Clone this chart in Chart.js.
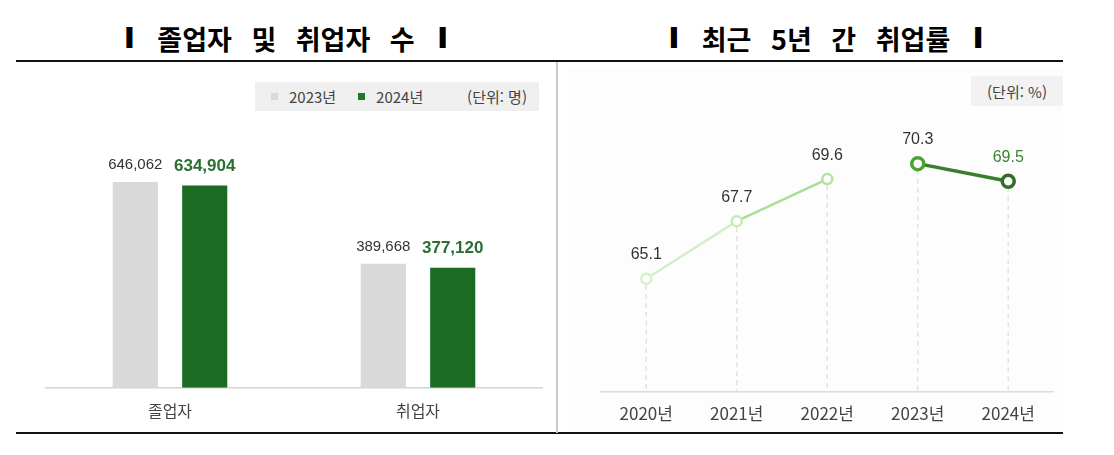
<!DOCTYPE html>
<html lang="ko">
<head>
<meta charset="utf-8">
<script src="https://cdn.jsdelivr.net/npm/chart.js@4.4.1/dist/chart.umd.min.js"></script>
<style>
  html, body { margin: 0; padding: 0; background: #fff; }
  body { width: 1114px; height: 455px; position: relative; overflow: hidden;
         font-family: 'Noto Sans CJK KR', 'Liberation Sans', sans-serif; color: #444; }
  .title { position: absolute; top: 18px; height: 40px; display: flex; align-items: center;
           justify-content: center; font-weight: 700; font-size: 27px; color: #000;
           letter-spacing: 0; word-spacing: 12px; white-space: pre; }
  .title .bar { font-family: 'Liberation Sans', sans-serif; font-size: 28px; font-weight: 700;
                -webkit-text-stroke: 2px #000; margin: 0 24px; }
  .rule { position: absolute; height: 2px; background: #111; }
  .sep { position: absolute; left: 556px; top: 62px; width: 2px; height: 371px; background: #cbcbcb; }
  .rightbg { position: absolute; left: 567px; top: 68px; width: 496px; height: 362px; background: #fdfdfd; }
  .legend { position: absolute; left: 255px; top: 82px; width: 284px; height: 29px; background: #efefef;
            display: flex; align-items: center; font-size: 15px; color: #444; }
  .legend .sw { display: inline-block; width: 7px; height: 7px; margin: 0 11px 0 16px; }
  .legend .unit { margin-left: auto; margin-right: 12px; }
  .unitbox { position: absolute; left: 971px; top: 76px; width: 92px; height: 30px; background: #f2f2f2;
             display: flex; align-items: center; justify-content: center; font-size: 15px; color: #444; }
  .box { position: absolute; }
</style>
</head>
<body>
<div class="title" id="titleLeft" style="left:16px; width:540px;"></div>
<div class="title" id="titleRight" style="left:600px; width:452px;"></div>
<div class="rule" style="left:16px; top:60px; width:1047px;"></div>
<div class="rule" style="left:16px; top:432px; width:1047px;"></div>
<div class="rightbg"></div>
<div class="sep"></div>
<div class="legend" id="legend"></div>
<div class="unitbox" id="unitRight"></div>
<div class="box" style="left:19px; top:100px; width:537px; height:347px;"><canvas id="barChart"></canvas></div>
<div class="box" style="left:557px; top:100px; width:506px; height:345px;"><canvas id="lineChart"></canvas></div>

<script>
// left chart data
const barTitle = '졸업자 및 취업자 수';
const barCategories = ['졸업자', '취업자'];
const barSeries = ['2023년', '2024년'];
const values2023 = [646062, 389668];
const values2024 = [634904, 377120];
const barUnit = '(단위: 명)';

// right chart data
const lineTitle = '최근 5년 간 취업률';
const years = ['2020년', '2021년', '2022년', '2023년', '2024년'];
const rates = [65.1, 67.7, 69.6, 70.3, 69.5];
const lineUnit = '(단위: %)';

const FONT = "'Noto Sans CJK KR', 'Liberation Sans', sans-serif";
const NUMFONT = "'Liberation Sans', Arial, sans-serif";

function setTitle(id, text) {
    const el = document.getElementById(id);
    el.innerHTML = '<span class="bar">I</span>' + text + '<span class="bar">I</span>';
}
setTitle('titleLeft', barTitle);
setTitle('titleRight', lineTitle);

document.getElementById('legend').innerHTML =
    '<span class="sw" style="background:#d9d9d9"></span>' + barSeries[0] +
    '<span class="sw" style="background:#1d7a27; margin-left:22px"></span>' + barSeries[1] +
    '<span class="unit">' + barUnit + '</span>';
document.getElementById('unitRight').textContent = lineUnit;

const barValueLabels = {
    id: 'barValueLabels',
    afterDatasetsDraw(chart) {
        const ctx = chart.ctx;
        chart.data.datasets.forEach((ds, i) => {
            chart.getDatasetMeta(i).data.forEach((bar, j) => {
                ctx.save();
                ctx.font = ds.labelFont;
                ctx.fillStyle = ds.labelColor;
                ctx.textAlign = 'center';
                ctx.textBaseline = 'middle';
                ctx.fillText(ds.data[j].toLocaleString('en-US'), bar.x, bar.y - ds.labelOffset);
                ctx.restore();
            });
        });
    }
};

new Chart(document.getElementById('barChart').getContext('2d'), {
    type: 'bar',
    data: {
        labels: barCategories,
        datasets: [
            {
                label: barSeries[0], data: values2023, backgroundColor: '#d9d9d9',
                categoryPercentage: 0.56, barPercentage: 0.65,
                labelFont: '15px ' + NUMFONT, labelColor: '#333', labelOffset: 17
            },
            {
                label: barSeries[1], data: values2024, backgroundColor: '#1b6b25',
                categoryPercentage: 0.56, barPercentage: 0.65,
                labelFont: 'bold 17px ' + NUMFONT, labelColor: '#2a6e33', labelOffset: 19
            }
        ]
    },
    options: {
        responsive: true,
        maintainAspectRatio: false,
        animation: false,
        layout: { padding: { left: 27, right: 14, top: 33, bottom: 12 } },
        plugins: { legend: { display: false }, tooltip: { enabled: false } },
        scales: {
            x: {
                grid: { display: false, drawTicks: false },
                border: { display: true, color: '#d4d4d4', width: 1.5 },
                ticks: { color: '#444', font: { family: FONT, size: 16 }, padding: 14 }
            },
            y: { display: false, min: 0, max: 800000 }
        }
    },
    plugins: [barValueLabels]
});

const segColors = ['#d3efc7', '#a8df92', 'rgba(0,0,0,0)', '#3a7d2e'];
const segWidths = [2.5, 2.5, 0, 3.5];

const dropLines = {
    id: 'dropLines',
    beforeDatasetsDraw(chart) {
        const ctx = chart.ctx;
        const bottom = chart.chartArea.bottom;
        chart.getDatasetMeta(0).data.forEach(pt => {
            ctx.save();
            ctx.strokeStyle = '#e2e2e2';
            ctx.lineWidth = 1.5;
            ctx.setLineDash([5, 4]);
            ctx.beginPath();
            ctx.moveTo(pt.x, pt.y + 6);
            ctx.lineTo(pt.x, bottom);
            ctx.stroke();
            ctx.restore();
        });
    }
};

const lineValueLabels = {
    id: 'lineValueLabels',
    afterDatasetsDraw(chart) {
        const ctx = chart.ctx;
        const ds = chart.data.datasets[0];
        chart.getDatasetMeta(0).data.forEach((pt, j) => {
            ctx.save();
            ctx.font = '16px ' + NUMFONT;
            ctx.fillStyle = j === ds.data.length - 1 ? '#3c8234' : '#333';
            ctx.textAlign = 'center';
            ctx.textBaseline = 'middle';
            ctx.fillText(ds.data[j].toFixed(1), pt.x, pt.y - 24);
            ctx.restore();
        });
    }
};

new Chart(document.getElementById('lineChart').getContext('2d'), {
    type: 'line',
    data: {
        labels: years,
        datasets: [{
            label: '취업률',
            data: rates,
            borderWidth: 2.5,
            pointRadius: [5, 5, 5, 6, 6],
            pointBorderWidth: [2.5, 2.5, 2.5, 3.5, 3.5],
            pointBackgroundColor: '#fff',
            pointBorderColor: ['#d6f0cb', '#c6ebb7', '#b3e3a1', '#4ba336', '#2f6e24'],
            segment: {
                borderColor: c => segColors[c.p0DataIndex],
                borderWidth: c => segWidths[c.p0DataIndex]
            }
        }]
    },
    options: {
        responsive: true,
        maintainAspectRatio: false,
        animation: false,
        layout: { padding: { left: 44, right: 5, top: 26, bottom: 9 } },
        plugins: { legend: { display: false }, tooltip: { enabled: false } },
        scales: {
            x: {
                offset: true,
                grid: { display: false, drawTicks: false },
                border: { display: true, color: '#dcdcdc', width: 1.5 },
                ticks: { color: '#444', font: { family: FONT, size: 17 }, padding: 12 }
            },
            y: { display: false, min: 60, max: 72 }
        }
    },
    plugins: [dropLines, lineValueLabels]
});
</script>
</body>
</html>
